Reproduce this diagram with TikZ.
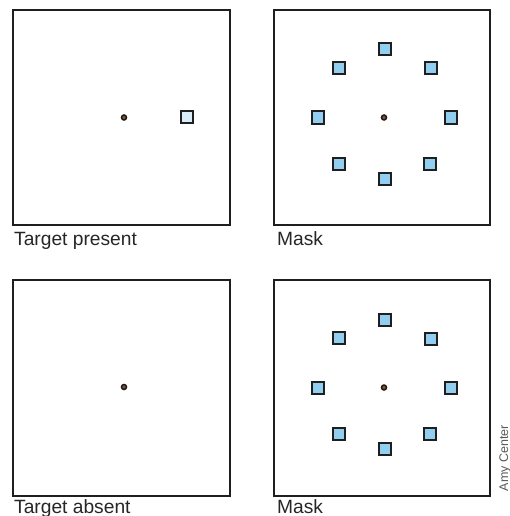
\documentclass[tikz,border=0pt]{standalone}
\usepackage{fontspec}
\setmainfont{Liberation Sans}
\definecolor{maskfill}{RGB}{146,206,240}
\definecolor{targetfill}{RGB}{218,236,248}
\definecolor{dotfill}{RGB}{150,80,40}
\begin{document}
\begin{tikzpicture}[x=1pt,y=-1pt,
  panel/.style={draw=black!88, line width=2pt},
  fixdot/.style={circle, draw=black!90, fill=dotfill, line width=1.5pt, inner sep=0pt, minimum size=5pt},
  probe/.style={rectangle, draw=black!88, line width=2pt, inner sep=0pt, minimum size=12pt},
  target/.style={probe, fill=targetfill},
  maskbox/.style={probe, fill=maskfill},
  caption/.style={anchor=base west, inner sep=0pt, font=\fontsize{19.2}{21}\selectfont, text=black!85},
]
\useasboundingbox (0,0) rectangle (510,516);

% the four display frames
\draw[panel] (13,10) rectangle (230,225);
\draw[panel] (274,10) rectangle (490,225);
\draw[panel] (13,280) rectangle (230,496);
\draw[panel] (274,280) rectangle (490,496);

% target-present display
\node[fixdot] (fixA) at (124,117.5) {};
\node[target] (tgt) at (187,117) {};

% target-absent display
\node[fixdot] (fixB) at (124,387) {};

% mask displays: fixation point with eight surrounding squares
\foreach \dy/\tag in {0/M, 270/N} {
  \node[fixdot] (fix\tag) at (384,117.5+\dy) {};
  \node[maskbox] (\tag1) at (384.5,49.5+\dy) {};
  \node[maskbox] (\tag2) at (431,68.5+\dy) {};
  \node[maskbox] (\tag3) at (450.5,117.5+\dy) {};
  \node[maskbox] (\tag4) at (430,163.5+\dy) {};
  \node[maskbox] (\tag5) at (384.5,179+\dy) {};
  \node[maskbox] (\tag6) at (339,163.5+\dy) {};
  \node[maskbox] (\tag7) at (318,117.5+\dy) {};
  \node[maskbox] (\tag8) at (338.5,68+\dy) {};
}

% captions
\node[caption] (capA) at (14,245) {Target present};
\node[caption] (capM) at (277,245) {Mask};
\node[caption] (capB) at (14,513) {Target absent};
\node[caption] (capN) at (277,513) {Mask};

% credit line
\node[rotate=90, inner sep=0pt, text=black!65, font=\fontsize{12.5}{13}\selectfont] (credit) at (505,458) {Amy Center};
\end{tikzpicture}
\end{document}
